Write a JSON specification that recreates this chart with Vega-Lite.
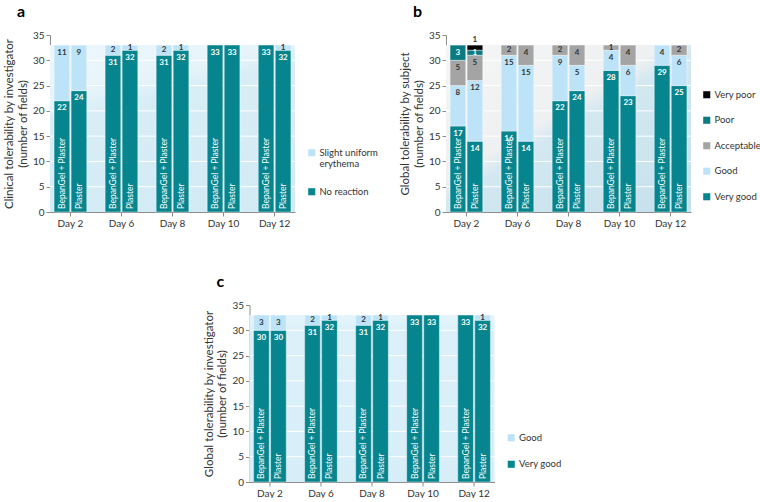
{
  "$schema": "https://vega.github.io/schema/vega-lite/v6.json",
  "padding": {"left": 3, "top": 4, "right": 0, "bottom": 0},
  "background": "white",
  "datasets": {
    "a": [
      {"day": "Day 2", "group": "BepanGel + Plaster", "cat": "No reaction", "n": 22},
      {"day": "Day 2", "group": "BepanGel + Plaster", "cat": "Slight uniform erythema", "n": 11},
      {"day": "Day 2", "group": "Plaster", "cat": "No reaction", "n": 24},
      {"day": "Day 2", "group": "Plaster", "cat": "Slight uniform erythema", "n": 9},
      {"day": "Day 6", "group": "BepanGel + Plaster", "cat": "No reaction", "n": 31},
      {"day": "Day 6", "group": "BepanGel + Plaster", "cat": "Slight uniform erythema", "n": 2},
      {"day": "Day 6", "group": "Plaster", "cat": "No reaction", "n": 32},
      {"day": "Day 6", "group": "Plaster", "cat": "Slight uniform erythema", "n": 1},
      {"day": "Day 8", "group": "BepanGel + Plaster", "cat": "No reaction", "n": 31},
      {"day": "Day 8", "group": "BepanGel + Plaster", "cat": "Slight uniform erythema", "n": 2},
      {"day": "Day 8", "group": "Plaster", "cat": "No reaction", "n": 32},
      {"day": "Day 8", "group": "Plaster", "cat": "Slight uniform erythema", "n": 1},
      {"day": "Day 10", "group": "BepanGel + Plaster", "cat": "No reaction", "n": 33},
      {"day": "Day 10", "group": "Plaster", "cat": "No reaction", "n": 33},
      {"day": "Day 12", "group": "BepanGel + Plaster", "cat": "No reaction", "n": 33},
      {"day": "Day 12", "group": "Plaster", "cat": "No reaction", "n": 32},
      {"day": "Day 12", "group": "Plaster", "cat": "Slight uniform erythema", "n": 1}
    ],
    "b": [
      {"day": "Day 2", "group": "BepanGel + Plaster", "cat": "Very good", "n": 17},
      {"day": "Day 2", "group": "BepanGel + Plaster", "cat": "Good", "n": 8},
      {"day": "Day 2", "group": "BepanGel + Plaster", "cat": "Acceptable", "n": 5},
      {"day": "Day 2", "group": "BepanGel + Plaster", "cat": "Poor", "n": 3},
      {"day": "Day 2", "group": "Plaster", "cat": "Very good", "n": 14},
      {"day": "Day 2", "group": "Plaster", "cat": "Good", "n": 12},
      {"day": "Day 2", "group": "Plaster", "cat": "Acceptable", "n": 5},
      {"day": "Day 2", "group": "Plaster", "cat": "Poor", "n": 1},
      {"day": "Day 2", "group": "Plaster", "cat": "Very poor", "n": 1},
      {"day": "Day 6", "group": "BepanGel + Plaster", "cat": "Very good", "n": 16},
      {"day": "Day 6", "group": "BepanGel + Plaster", "cat": "Good", "n": 15},
      {"day": "Day 6", "group": "BepanGel + Plaster", "cat": "Acceptable", "n": 2},
      {"day": "Day 6", "group": "Plaster", "cat": "Very good", "n": 14},
      {"day": "Day 6", "group": "Plaster", "cat": "Good", "n": 15},
      {"day": "Day 6", "group": "Plaster", "cat": "Acceptable", "n": 4},
      {"day": "Day 8", "group": "BepanGel + Plaster", "cat": "Very good", "n": 22},
      {"day": "Day 8", "group": "BepanGel + Plaster", "cat": "Good", "n": 9},
      {"day": "Day 8", "group": "BepanGel + Plaster", "cat": "Acceptable", "n": 2},
      {"day": "Day 8", "group": "Plaster", "cat": "Very good", "n": 24},
      {"day": "Day 8", "group": "Plaster", "cat": "Good", "n": 5},
      {"day": "Day 8", "group": "Plaster", "cat": "Acceptable", "n": 4},
      {"day": "Day 10", "group": "BepanGel + Plaster", "cat": "Very good", "n": 28},
      {"day": "Day 10", "group": "BepanGel + Plaster", "cat": "Good", "n": 4},
      {"day": "Day 10", "group": "BepanGel + Plaster", "cat": "Acceptable", "n": 1},
      {"day": "Day 10", "group": "Plaster", "cat": "Very good", "n": 23},
      {"day": "Day 10", "group": "Plaster", "cat": "Good", "n": 6},
      {"day": "Day 10", "group": "Plaster", "cat": "Acceptable", "n": 4},
      {"day": "Day 12", "group": "BepanGel + Plaster", "cat": "Very good", "n": 29},
      {"day": "Day 12", "group": "BepanGel + Plaster", "cat": "Good", "n": 4},
      {"day": "Day 12", "group": "Plaster", "cat": "Very good", "n": 25},
      {"day": "Day 12", "group": "Plaster", "cat": "Good", "n": 6},
      {"day": "Day 12", "group": "Plaster", "cat": "Acceptable", "n": 2}
    ],
    "c": [
      {"day": "Day 2", "group": "BepanGel + Plaster", "cat": "Very good", "n": 30},
      {"day": "Day 2", "group": "BepanGel + Plaster", "cat": "Good", "n": 3},
      {"day": "Day 2", "group": "Plaster", "cat": "Very good", "n": 30},
      {"day": "Day 2", "group": "Plaster", "cat": "Good", "n": 3},
      {"day": "Day 6", "group": "BepanGel + Plaster", "cat": "Very good", "n": 31},
      {"day": "Day 6", "group": "BepanGel + Plaster", "cat": "Good", "n": 2},
      {"day": "Day 6", "group": "Plaster", "cat": "Very good", "n": 32},
      {"day": "Day 6", "group": "Plaster", "cat": "Good", "n": 1},
      {"day": "Day 8", "group": "BepanGel + Plaster", "cat": "Very good", "n": 31},
      {"day": "Day 8", "group": "BepanGel + Plaster", "cat": "Good", "n": 2},
      {"day": "Day 8", "group": "Plaster", "cat": "Very good", "n": 32},
      {"day": "Day 8", "group": "Plaster", "cat": "Good", "n": 1},
      {"day": "Day 10", "group": "BepanGel + Plaster", "cat": "Very good", "n": 33},
      {"day": "Day 10", "group": "Plaster", "cat": "Very good", "n": 33},
      {"day": "Day 12", "group": "BepanGel + Plaster", "cat": "Very good", "n": 33},
      {"day": "Day 12", "group": "Plaster", "cat": "Very good", "n": 32},
      {"day": "Day 12", "group": "Plaster", "cat": "Good", "n": 1}
    ],
    "band": [{"top": 33}],
    "grid": [{"g": 5}, {"g": 10}, {"g": 15}, {"g": 20}, {"g": 25}, {"g": 30}]
  },
  "vconcat": [
    {
      "hconcat": [
        {
          "title": {"text": "a"},
          "width": 245, "height": 177,
          "layer": [
            {"data": {"name": "band"}, "mark": {"type": "rect", "fill": {"gradient": "linear", "x1": 0, "y1": 0, "x2": 0.35, "y2": 1, "stops": [{"offset": 0, "color": "#ecf7fc"}, {"offset": 0.3, "color": "#e6f4fa"}, {"offset": 0.4, "color": "#d8eef7"}, {"offset": 1, "color": "#d3ebf5"}]}},
             "encoding": {"y": {"field": "top", "type": "quantitative", "scale": {"domain": [0, 35], "nice": false}, "title": ["Clinical tolerability by investigator", "(number of fields)"]}, "y2": {"datum": 0}}},
            {"data": {"name": "grid"}, "mark": {"type": "rule", "color": "white", "strokeWidth": 1},
             "encoding": {"y": {"field": "g", "type": "quantitative", "title": ["Clinical tolerability by investigator", "(number of fields)"]}}},
            {
              "data": {"name": "a"},
              "transform": [
                {"calculate": "indexof(['No reaction','Very good','Good','Slight uniform erythema','Acceptable','Poor','Very poor'], datum.cat)", "as": "rank"},
                {"stack": "n", "groupby": ["day", "group"], "sort": [{"field": "rank", "order": "ascending"}], "as": ["y0", "y1"]},
                {"calculate": "datum.cat == 'Very poor' ? datum.y1 + 1 : datum.y1 - min(1.5, datum.n / 2)", "as": "ly"}
              ],
              "encoding": {
                "x": {"field": "day", "type": "nominal", "sort": ["Day 2", "Day 6", "Day 8", "Day 10", "Day 12"], "scale": {"paddingInner": 0.36, "paddingOuter": 0.08}, "axis": {"title": null, "labelAngle": 0}},
                "xOffset": {"field": "group", "type": "nominal", "sort": ["BepanGel + Plaster", "Plaster"], "scale": {"paddingInner": 0.08}}
              },
              "layer": [
                {"mark": {"type": "bar", "stroke": "white", "strokeWidth": 0.4},
                 "encoding": {
                   "y": {"field": "y1", "type": "quantitative", "title": ["Clinical tolerability by investigator", "(number of fields)"]},
                   "y2": {"field": "y0"},
                   "color": {"field": "cat", "type": "nominal", "scale": {"domain": ["Slight uniform erythema", "No reaction"], "range": ["#bde3f8", "#06858f"]},
                     "legend": {"orient": "none", "legendX": 257, "legendY": 113, "rowPadding": 17, "labelExpr": "datum.label == 'Slight uniform erythema' ? ['Slight uniform', 'erythema'] : datum.label", "labelLineHeight": 13}}
                 }},
                {"mark": {"type": "text", "fontSize": 8, "fontWeight": "bold", "baseline": "middle"},
                 "encoding": {
                   "y": {"field": "ly", "type": "quantitative", "title": ["Clinical tolerability by investigator", "(number of fields)"]},
                   "text": {"field": "n"},
                   "color": {"condition": {"test": "indexof(['Good','Slight uniform erythema','Acceptable','Very poor'], datum.cat) >= 0", "value": "#333333"}, "value": "white"}
                 }},
                {"transform": [{"filter": "datum.rank <= 1"}],
                 "mark": {"type": "text", "fontSize": 8.5, "angle": 270, "align": "left", "baseline": "middle", "dx": 3, "color": "white"},
                 "encoding": {"y": {"datum": 0, "type": "quantitative"}, "text": {"field": "group"}}}
              ]
            }
          ]
        },
        {
          "title": {"text": "b"},
          "width": 245, "height": 177,
          "layer": [
            {"data": {"name": "band"}, "mark": {"type": "rect", "fill": {"gradient": "linear", "x1": 0, "y1": 0, "x2": 0.9, "y2": 1, "stops": [{"offset": 0, "color": "#f5f5f5"}, {"offset": 0.45, "color": "#eef0f1"}, {"offset": 0.52, "color": "#d3e8f1"}, {"offset": 1, "color": "#c6e1ec"}]}},
             "encoding": {"y": {"field": "top", "type": "quantitative", "scale": {"domain": [0, 35], "nice": false}, "title": ["Global tolerability by subject", "(number of fields)"]}, "y2": {"datum": 0}}},
            {"data": {"name": "grid"}, "mark": {"type": "rule", "color": "white", "strokeWidth": 1},
             "encoding": {"y": {"field": "g", "type": "quantitative", "title": ["Global tolerability by subject", "(number of fields)"]}}},
            {
              "data": {"name": "b"},
              "transform": [
                {"calculate": "indexof(['No reaction','Very good','Good','Slight uniform erythema','Acceptable','Poor','Very poor'], datum.cat)", "as": "rank"},
                {"stack": "n", "groupby": ["day", "group"], "sort": [{"field": "rank", "order": "ascending"}], "as": ["y0", "y1"]},
                {"calculate": "datum.cat == 'Very poor' ? datum.y1 + 1 : datum.y1 - min(1.5, datum.n / 2)", "as": "ly"}
              ],
              "encoding": {
                "x": {"field": "day", "type": "nominal", "sort": ["Day 2", "Day 6", "Day 8", "Day 10", "Day 12"], "scale": {"paddingInner": 0.36, "paddingOuter": 0.08}, "axis": {"title": null, "labelAngle": 0}},
                "xOffset": {"field": "group", "type": "nominal", "sort": ["BepanGel + Plaster", "Plaster"], "scale": {"paddingInner": 0.08}}
              },
              "layer": [
                {"mark": {"type": "bar", "stroke": "white", "strokeWidth": 0.4},
                 "encoding": {
                   "y": {"field": "y1", "type": "quantitative", "title": ["Global tolerability by subject", "(number of fields)"]},
                   "y2": {"field": "y0"},
                   "color": {"field": "cat", "type": "nominal", "scale": {"domain": ["Very poor", "Poor", "Acceptable", "Good", "Very good"], "range": ["#050505", "#0b7b82", "#a4a4a4", "#bde3f8", "#06858f"]},
                     "legend": {"orient": "none", "legendX": 256, "legendY": 55, "rowPadding": 14.5}}
                 }},
                {"mark": {"type": "text", "fontSize": 8, "fontWeight": "bold", "baseline": "middle"},
                 "encoding": {
                   "y": {"field": "ly", "type": "quantitative", "title": ["Global tolerability by subject", "(number of fields)"]},
                   "text": {"field": "n"},
                   "color": {"condition": {"test": "indexof(['Good','Slight uniform erythema','Acceptable','Very poor'], datum.cat) >= 0", "value": "#333333"}, "value": "white"}
                 }},
                {"transform": [{"filter": "datum.rank <= 1"}],
                 "mark": {"type": "text", "fontSize": 8.5, "angle": 270, "align": "left", "baseline": "middle", "dx": 3, "color": "white"},
                 "encoding": {"y": {"datum": 0, "type": "quantitative"}, "text": {"field": "group"}}}
              ]
            }
          ]
        }
      ],
      "spacing": 21,
      "resolve": {"scale": {"color": "independent", "x": "independent", "y": "independent"}}
    },
    {
      "title": {"text": "c"},
      "width": 245, "height": 177,
      "layer": [
        {"data": {"name": "band"}, "mark": {"type": "rect", "fill": {"gradient": "linear", "x1": 0, "y1": 0, "x2": 0, "y2": 1, "stops": [{"offset": 0, "color": "#e6f5fc"}, {"offset": 0.08, "color": "#dcf0f9"}, {"offset": 1, "color": "#d7eef8"}]}},
         "encoding": {"y": {"field": "top", "type": "quantitative", "scale": {"domain": [0, 35], "nice": false}, "title": ["Global tolerability by investigator", "(number of fields)"]}, "y2": {"datum": 0}}},
        {"data": {"name": "grid"}, "mark": {"type": "rule", "color": "white", "strokeWidth": 1},
         "encoding": {"y": {"field": "g", "type": "quantitative", "title": ["Global tolerability by investigator", "(number of fields)"]}}},
        {
          "data": {"name": "c"},
          "transform": [
            {"calculate": "indexof(['No reaction','Very good','Good','Slight uniform erythema','Acceptable','Poor','Very poor'], datum.cat)", "as": "rank"},
            {"stack": "n", "groupby": ["day", "group"], "sort": [{"field": "rank", "order": "ascending"}], "as": ["y0", "y1"]},
            {"calculate": "datum.cat == 'Very poor' ? datum.y1 + 1 : datum.y1 - min(1.5, datum.n / 2)", "as": "ly"}
          ],
          "encoding": {
            "x": {"field": "day", "type": "nominal", "sort": ["Day 2", "Day 6", "Day 8", "Day 10", "Day 12"], "scale": {"paddingInner": 0.36, "paddingOuter": 0.08}, "axis": {"title": null, "labelAngle": 0}},
            "xOffset": {"field": "group", "type": "nominal", "sort": ["BepanGel + Plaster", "Plaster"], "scale": {"paddingInner": 0.08}}
          },
          "layer": [
            {"mark": {"type": "bar", "stroke": "white", "strokeWidth": 0.4},
             "encoding": {
               "y": {"field": "y1", "type": "quantitative", "title": ["Global tolerability by investigator", "(number of fields)"]},
               "y2": {"field": "y0"},
               "color": {"field": "cat", "type": "nominal", "scale": {"domain": ["Good", "Very good"], "range": ["#bde3f8", "#06858f"]},
                 "legend": {"orient": "none", "legendX": 257, "legendY": 128, "rowPadding": 15.5}}
             }},
            {"mark": {"type": "text", "fontSize": 8, "fontWeight": "bold", "baseline": "middle"},
             "encoding": {
               "y": {"field": "ly", "type": "quantitative", "title": ["Global tolerability by investigator", "(number of fields)"]},
               "text": {"field": "n"},
               "color": {"condition": {"test": "indexof(['Good','Slight uniform erythema','Acceptable','Very poor'], datum.cat) >= 0", "value": "#333333"}, "value": "white"}
             }},
            {"transform": [{"filter": "datum.rank <= 1"}],
             "mark": {"type": "text", "fontSize": 8.5, "angle": 270, "align": "left", "baseline": "middle", "dx": 3, "color": "white"},
             "encoding": {"y": {"datum": 0, "type": "quantitative"}, "text": {"field": "group"}}}
          ]
        }
      ]
    }
  ],
  "spacing": 46,
  "center": true,
  "resolve": {"scale": {"color": "independent", "x": "independent", "y": "independent"}},
  "config": {
    "font": "Lato",
    "view": {"stroke": null},
    "title": {"anchor": "start", "frame": "bounds", "fontSize": 16, "fontWeight": "bold", "color": "#000000", "dx": 13, "offset": 10},
    "axis": {"domainColor": "#8c8c8c", "tickColor": "#8c8c8c", "labelColor": "#333333", "labelFontSize": 10, "titleFontSize": 11.5, "titleFontWeight": "normal", "titleColor": "#333333", "tickSize": 4, "grid": false, "labelPadding": 2, "titlePadding": 4},
    "axisY": {"tickCount": 7, "labelOverlap": false},
    "legend": {"title": null, "symbolType": "square", "symbolSize": 50, "symbolStrokeWidth": 0, "labelFontSize": 9.5, "labelColor": "#333333", "symbolOpacity": 1, "labelOffset": 3}
  }
}
